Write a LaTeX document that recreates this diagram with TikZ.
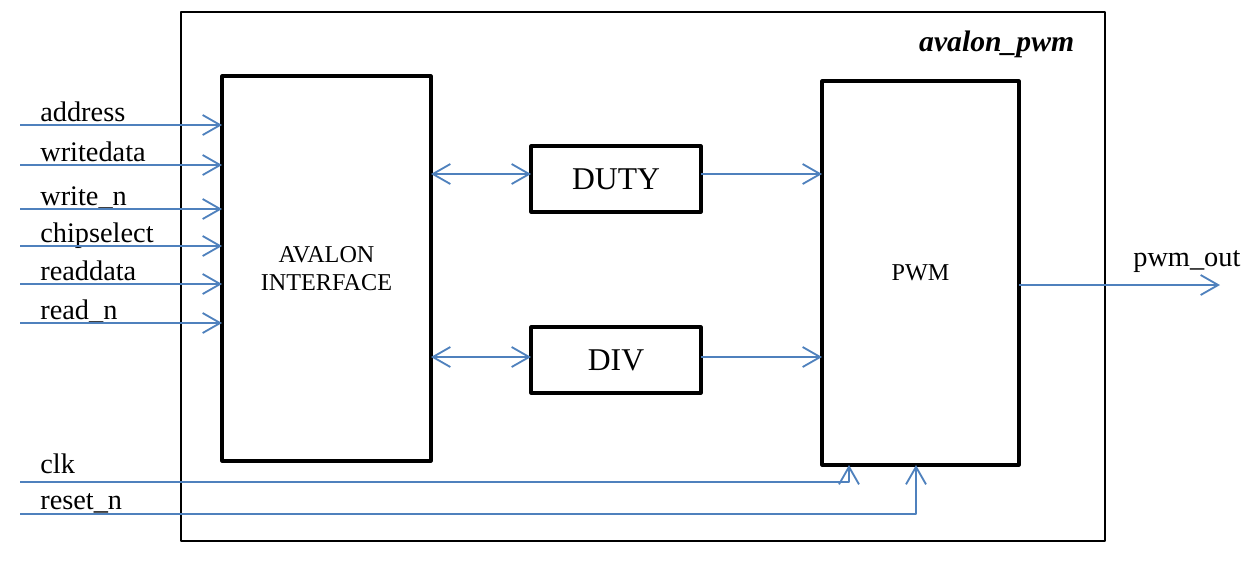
\documentclass[tikz,border=0pt]{standalone}
\usepackage{fontspec}
\setmainfont{Liberation Serif}
\usetikzlibrary{arrows.meta}
\definecolor{sigblue}{RGB}{79,129,189}
\begin{document}
\begin{tikzpicture}[x=0.6pt, y=-0.6pt, line join=round, >={Straight Barb[length=10.5pt,width=12pt]}, font=\fontsize{17}{20}\selectfont]
    \tikzset{blk/.style={draw, line width=1.9pt, inner sep=0pt, outer sep=0pt},
             sig/.style={sigblue, line width=1.1pt}}
    \useasboundingbox (0,0) rectangle (1250,561);
    % boxes
    \node[blk, line width=1.3pt, minimum width=554.4pt, minimum height=317.4pt] (top) at (643,276.5) {};
    \node[anchor=east, font=\fontsize{17.8}{20}\selectfont\bfseries\itshape] (title) at (1080,44) {avalon\_pwm};
    \node[blk, minimum width=125.4pt, minimum height=231pt, align=center, font=\fontsize{14.5}{17}\selectfont] (avalon) at (326.5,268.5) {AVALON\\INTERFACE};
    \node[blk, minimum width=102pt, minimum height=39.6pt, font=\fontsize{19}{22}\selectfont] (duty) at (616,179) {DUTY};
    \node[blk, minimum width=102pt, minimum height=39.6pt, font=\fontsize{19}{22}\selectfont] (div) at (616,360) {DIV};
    \node[blk, minimum width=118.2pt, minimum height=230.4pt, font=\fontsize{14.5}{17}\selectfont] (pwm) at (920.5,273) {PWM};
    % avalon inputs
    \foreach \yy/\name [count=\i] in {125/address, 165/writedata, 209/write\_n, 246/chipselect, 284/readdata, 323/read\_n}{
        \coordinate (in\i) at (20,\yy);
        \node[anchor=base west, inner sep=0pt] (lbl\i) at (40,\yy-3.5) {\name};
        \draw[sig,->] (in\i) -- (in\i -| avalon.west);
    }
    % registers
    \coordinate (d1) at ([yshift=3pt]duty.west);
    \coordinate (d2) at ([yshift=1.8pt]div.west);
    \draw[sig,<->] (avalon.east |- d1) -- (d1);
    \draw[sig,<->] (avalon.east |- d2) -- (d2);
    \draw[sig,->] ([yshift=3pt]duty.east) -- (pwm.west |- d1);
    \draw[sig,->] ([yshift=1.8pt]div.east) -- (pwm.west |- d2);
    % output
    \coordinate (out) at (1220,285);
    \draw[sig,->] (pwm.east |- out) -- (out);
    \node[anchor=base west, inner sep=0pt] (lblout) at (1133,266) {pwm\_out};
    % clock and reset
    \coordinate (clk) at (20,482);
    \coordinate (rst) at (20,514);
    \node[anchor=base west, inner sep=0pt] (lblclk) at (40,473) {clk};
    \node[anchor=base west, inner sep=0pt] (lblrst) at (40,509) {reset\_n};
    \draw[sig,->] (clk) -| ([xshift=16.2pt]pwm.south west);
    \draw[sig,->] (rst) -| ([xshift=56.4pt]pwm.south west);
\end{tikzpicture}
\end{document}
